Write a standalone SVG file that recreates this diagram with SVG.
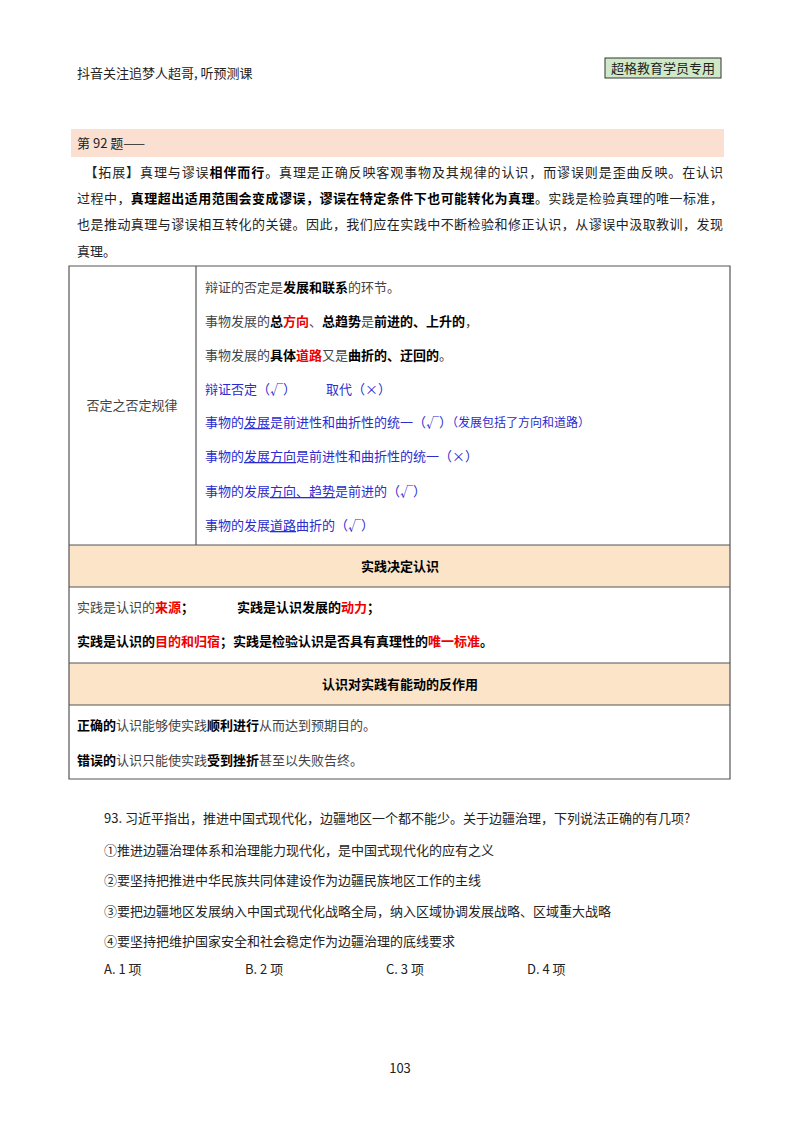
<svg xmlns="http://www.w3.org/2000/svg" width="800" height="1132" viewBox="0 0 800 1132">
<style>
text{font-family:"Noto Sans CJK SC","Liberation Serif",serif;font-size:13px;fill:#222}
.b{font-weight:bold;fill:#000}
.r{fill:#e00;font-weight:bold}
.bl{fill:#2b2bd0}
.u{text-decoration:underline}
.g{fill:#444}
.line{stroke:#555;stroke-width:1.2;fill:none}
.hd{fill:#fbe4c8}
</style>
<rect width="800" height="1132" fill="#fff"/>
<g id="header">
<text x="77" y="78" font-size="13">抖音关注追梦人超哥, 听预测课</text>
<rect x="605" y="58" width="116" height="20" fill="#cfe8c8" stroke="#333"/>
<text x="663" y="73" text-anchor="middle" font-size="13">超格教育学员专用</text>
</g>
<g id="title">
<rect x="71" y="129" width="653" height="28" fill="#fbe0d2"/>
<text x="77" y="148">第 92 题——</text>
</g>
<g id="para" font-size="13">
<text x="77" y="177" textLength="646" lengthAdjust="spacing">　【拓展】真理与谬误<tspan class="b">相伴而行</tspan>。真理是正确反映客观事物及其规律的认识，而谬误则是歪曲反映。在认识</text>
<text x="77" y="203" textLength="646" lengthAdjust="spacing">过程中，<tspan class="b">真理超出适用范围会变成谬误，谬误在特定条件下也可能转化为真理</tspan>。实践是检验真理的唯一标准，</text>
<text x="77" y="229" textLength="646" lengthAdjust="spacing">也是推动真理与谬误相互转化的关键。因此，我们应在实践中不断检验和修正认识，从谬误中汲取教训，发现</text>
<text x="77" y="256">真理。</text>
</g>
<g id="table">
<rect x="69" y="545" width="661" height="42" class="hd"/>
<rect x="69" y="663" width="661" height="42" class="hd"/>
<path class="line" d="M69 266H730V779H69Z M196 266V545 M69 545H730 M69 587H730 M69 663H730 M69 705H730"/>
<text x="132" y="410" text-anchor="middle" class="g">否定之否定规律</text>
<text x="205" y="292" class="g">辩证的否定是<tspan class="b">发展和联系</tspan>的环节。</text>
<text x="205" y="326" class="g">事物发展的<tspan class="b">总</tspan><tspan class="r">方向</tspan>、<tspan class="b">总趋势</tspan>是<tspan class="b">前进的、上升的</tspan>，</text>
<text x="205" y="360" class="g">事物发展的<tspan class="b">具体</tspan><tspan class="r">道路</tspan>又是<tspan class="b">曲折的、迂回的</tspan>。</text>
<text x="205" y="394" class="bl">辩证否定（√）<tspan x="326">取代（×）</tspan></text>
<text x="205" y="427" class="bl">事物的<tspan class="u">发展</tspan>是前进性和曲折性的统一（√）<tspan font-size="12">（发展包括了方向和道路）</tspan></text>
<text x="205" y="461" class="bl">事物的<tspan class="u">发展方向</tspan>是前进性和曲折性的统一（×）</text>
<text x="205" y="496" class="bl">事物的发展<tspan class="u">方向、趋势</tspan>是前进的（√）</text>
<text x="205" y="530" class="bl">事物的发展<tspan class="u">道路</tspan>曲折的（√）</text>
<text x="400" y="571" text-anchor="middle" class="b">实践决定认识</text>
<text x="77" y="612" class="g">实践是认识的<tspan class="r">来源</tspan><tspan class="b">；</tspan><tspan x="237" class="b">实践是认识发展的</tspan><tspan class="r">动力</tspan><tspan class="b">；</tspan></text>
<text x="77" y="646" class="b">实践是认识的<tspan class="r">目的和归宿</tspan>；实践是检验认识是否具有真理性的<tspan class="r">唯一标准</tspan>。</text>
<text x="400" y="689" text-anchor="middle" class="b">认识对实践有能动的反作用</text>
<text x="77" y="730" class="g"><tspan class="b">正确的</tspan>认识能够使实践<tspan class="b">顺利进行</tspan>从而达到预期目的。</text>
<text x="77" y="765" class="g"><tspan class="b">错误的</tspan>认识只能使实践<tspan class="b">受到挫折</tspan>甚至以失败告终。</text>
</g>
<g id="q93" font-size="13">
<text x="104" y="823">93. 习近平指出，推进中国式现代化，边疆地区一个都不能少。关于边疆治理，下列说法正确的有几项?</text>
<text x="104" y="855">①推进边疆治理体系和治理能力现代化，是中国式现代化的应有之义</text>
<text x="104" y="885">②要坚持把推进中华民族共同体建设作为边疆民族地区工作的主线</text>
<text x="104" y="916">③要把边疆地区发展纳入中国式现代化战略全局，纳入区域协调发展战略、区域重大战略</text>
<text x="104" y="946">④要坚持把维护国家安全和社会稳定作为边疆治理的底线要求</text>
<text x="104" y="974">A. 1 项</text>
<text x="245" y="974">B. 2 项</text>
<text x="386" y="974">C. 3 项</text>
<text x="527" y="974">D. 4 项</text>
</g>
<text x="400" y="1073" text-anchor="middle" font-size="12">103</text>
</svg>
